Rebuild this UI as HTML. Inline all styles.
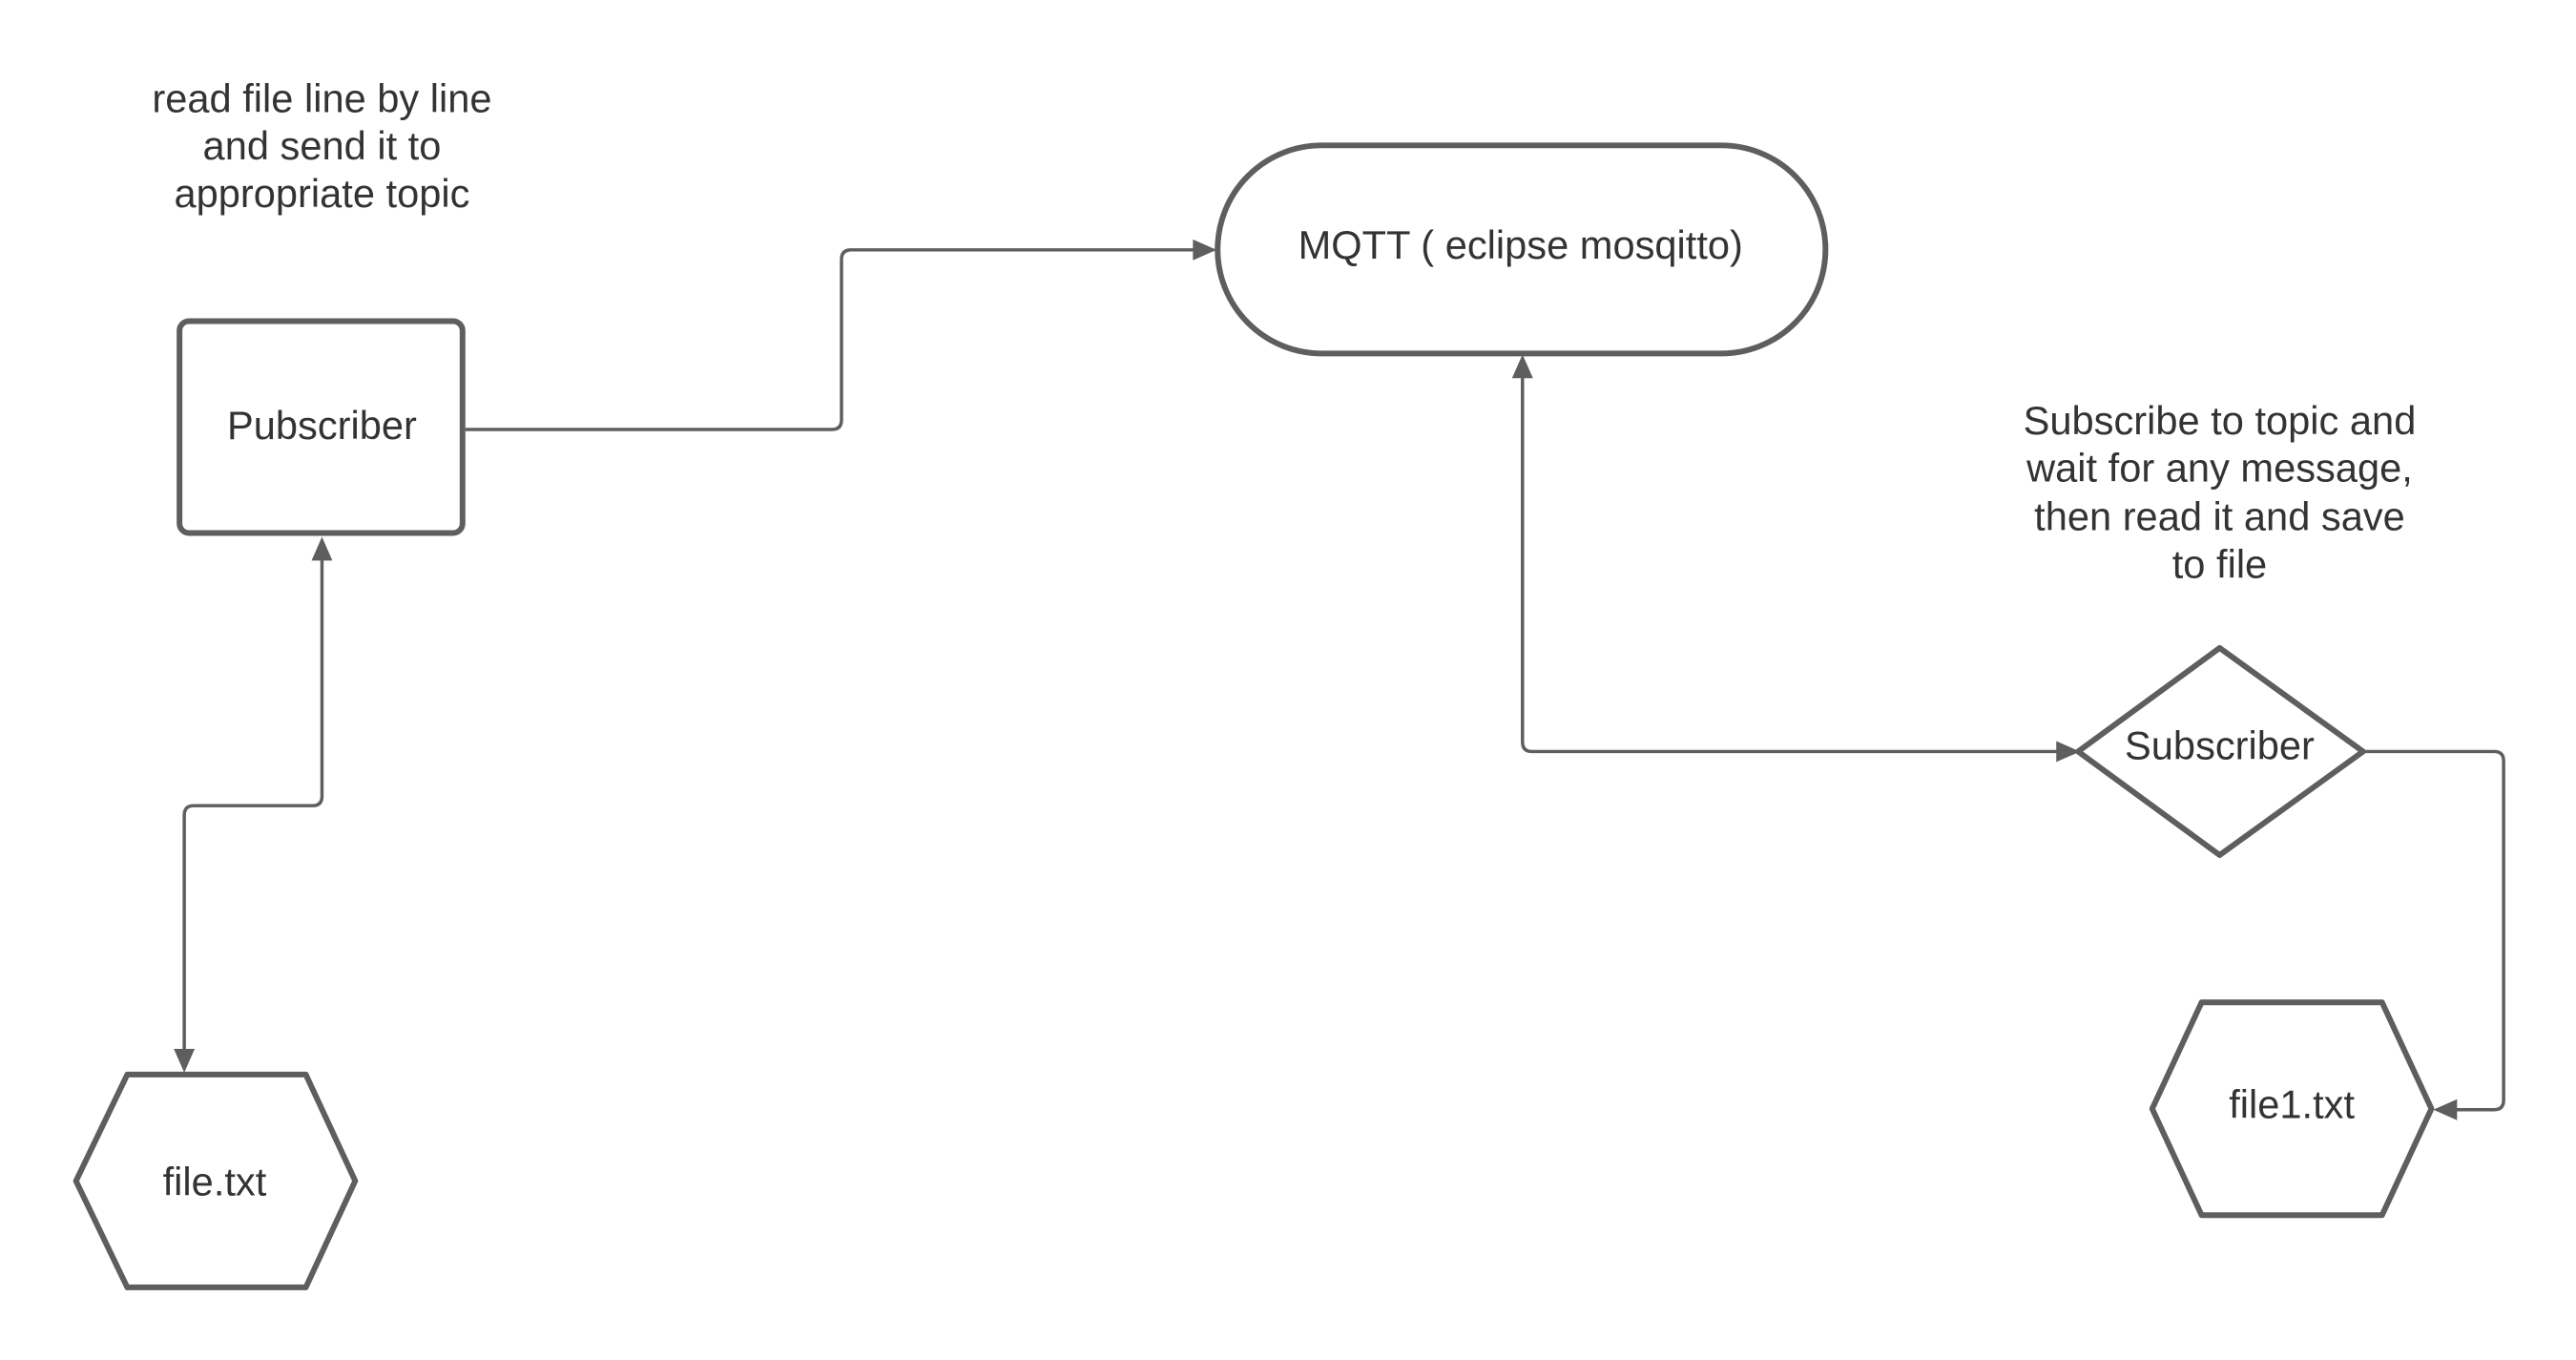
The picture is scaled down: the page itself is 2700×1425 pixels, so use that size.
<!DOCTYPE html>
<html><head><meta charset="utf-8"><style>
html,body{margin:0;padding:0;background:#fff;}
svg{display:block;}
text{font-family:"Liberation Sans",Arial,sans-serif;font-size:41.8px;fill:#333;text-anchor:middle;}
</style></head><body>
<svg width="2700" height="1425" viewBox="0 0 2700 1425" xmlns="http://www.w3.org/2000/svg">
<rect width="2700" height="1425" fill="#fff"/>
<g transform="scale(0.9955)">
<g fill="none" stroke="#5e5e5e" stroke-width="3.5" stroke-linejoin="round">
<path d="M490 452 H876 Q886 452 886 442 V273 Q886 263 896 263 H1258"/>
<path d="M1603 396 V781 Q1603 791 1613 791 H2166"/>
<path d="M2486 791 H2626 Q2636 791 2636 801 V1158 Q2636 1168 2626 1168 H2586"/>
<path d="M339 587 V838 Q339 848 329 848 H204 Q194 848 194 858 V1106"/>
</g>
<g fill="#5e5e5e">
<polygon points="1281,263 1256,252 1256,274"/>
<polygon points="1603,373 1592,398 1614,398"/>
<polygon points="2190,791 2165,780 2165,802"/>
<polygon points="2562,1168 2587,1157 2587,1179"/>
<polygon points="339,565 328,590 350,590"/>
<polygon points="194,1129 183,1104 205,1104"/>
</g>
<g fill="#fff" stroke="#5e5e5e" stroke-width="6" stroke-linejoin="round">
<rect x="189" y="338" width="298" height="223" rx="10"/>
<rect x="1282" y="153" width="640" height="219" rx="109.5"/>
<polygon points="2337,682 2488,791 2337,900 2188,791"/>
<polygon points="2318,1055 2508,1055 2560,1167 2508,1279 2318,1279 2266,1167"/>
<polygon points="134,1131 322,1131 374,1243 322,1355 134,1355 80,1243"/>
</g>
<text x="339" y="118">read file line by line</text>
<text x="339" y="168">and send it to</text>
<text x="339" y="218">appropriate topic</text>
<text x="339" y="462">Pubscriber</text>
<text x="1601" y="272">MQTT ( eclipse mosqitto)</text>
<text x="2337" y="457">Subscribe to topic and</text>
<text x="2337" y="507">wait for any message,</text>
<text x="2337" y="558">then read it and save</text>
<text x="2337" y="608">to file</text>
<text x="2337" y="799">Subscriber</text>
<text x="2413" y="1177">file1.txt</text>
<text x="226" y="1258">file.txt</text>
</g>
</svg>
</body></html>
